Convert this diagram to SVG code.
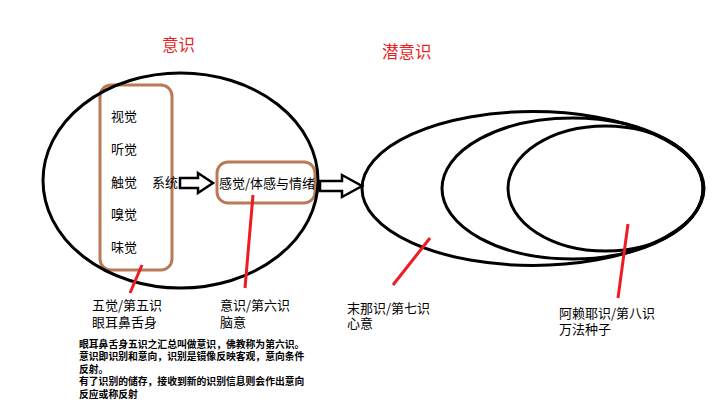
<svg xmlns="http://www.w3.org/2000/svg" width="720" height="405" viewBox="0 0 720 405">
<style>
.t{font-family:"Noto Sans CJK SC","Noto Sans",sans-serif;fill:#000}
.lbl{font-size:13px}
.title{font-size:16.5px;fill:#ED1C24}
.para{font-size:9.8px;font-weight:bold}
.ell{fill:none;stroke:#000;stroke-width:3}
.box{fill:none;stroke:#B97A57;stroke-width:3}
.red{stroke:#ED1C24;stroke-width:3;fill:none}
.arr{fill:#fff;stroke:#000;stroke-width:2.5;stroke-linejoin:miter}
</style>
<rect width="720" height="405" fill="#fff"/>
<text class="t title" x="162" y="51">意识</text>
<text class="t title" x="382" y="58">潜意识</text>
<g id="five-senses">
<rect class="box" x="100" y="85" width="72" height="185" rx="11"/>
<text class="t lbl" x="111" y="121">视觉</text>
<text class="t lbl" x="111" y="153.5">听觉</text>
<text class="t lbl" x="111" y="186.5">触觉</text>
<text class="t lbl" x="111" y="219">嗅觉</text>
<text class="t lbl" x="111" y="251.5">味觉</text>
</g>
<text class="t lbl" x="152" y="186.5">系统</text>
<g id="feeling">
<rect class="box" x="217" y="162" width="98" height="41" rx="11"/>
<text class="t lbl" x="219" y="187.5">感觉/体感与情绪</text>
</g>
<g id="consciousness">
<ellipse class="ell" cx="180.5" cy="180.5" rx="137.5" ry="107.5"/>
</g>
<g id="subconscious">
<ellipse class="ell" cx="533" cy="188.5" rx="171" ry="77"/>
<ellipse class="ell" cx="572.5" cy="188.5" rx="130.5" ry="70.5"/>
<ellipse class="ell" cx="605.5" cy="188.5" rx="97.5" ry="62.5"/>
</g>
<g id="connectors">
<polygon class="arr" points="180,178 198,178 198,173 213,183 198,193 198,188 180,188"/>
<polygon class="arr" points="320,181 342,181 342,175 362,186 342,197 342,191 320,191"/>
<line class="red" x1="142" y1="265" x2="130" y2="293"/>
<line class="red" x1="253" y1="195" x2="245" y2="288"/>
<line class="red" x1="430" y1="238" x2="393" y2="285"/>
<line class="red" x1="628" y1="224" x2="618" y2="298"/>
</g>
<g id="label-5">
<text class="t lbl" x="92" y="309.5">五觉/第五识</text>
<text class="t lbl" x="92" y="326.5">眼耳鼻舌身</text>
</g>
<g id="label-6">
<text class="t lbl" x="220" y="309.5">意识/第六识</text>
<text class="t lbl" x="220" y="326.5">脑意</text>
</g>
<g id="label-7">
<text class="t lbl" x="347" y="312.5">末那识/第七识</text>
<text class="t lbl" x="347" y="328">心意</text>
</g>
<g id="label-8">
<text class="t lbl" x="559" y="317.5">阿赖耶识/第八识</text>
<text class="t lbl" x="559" y="334">万法种子</text>
</g>
<g id="note">
<text class="t para" x="79" y="347.5">眼耳鼻舌身五识之汇总叫做意识，佛教称为第六识。</text>
<text class="t para" x="79" y="360">意识即识别和意向，识别是镜像反映客观，意向条件</text>
<text class="t para" x="79" y="372.5">反射。</text>
<text class="t para" x="79" y="385">有了识别的储存，接收到新的识别信息则会作出意向</text>
<text class="t para" x="79" y="397.5">反应或称反射</text>
</g>
</svg>
